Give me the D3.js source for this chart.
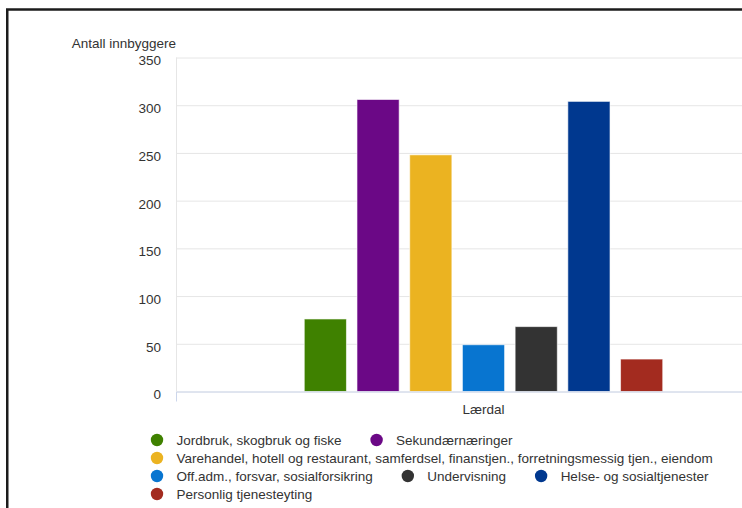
<!DOCTYPE html>
<html>
<head>
<meta charset="utf-8">
<script src="https://cdn.jsdelivr.net/npm/d3@7/dist/d3.min.js"></script>
<style>
  html, body { margin: 0; padding: 0; background: #fff; }
  svg { display: block; font-family: "Liberation Sans", Arial, sans-serif; }
</style>
</head>
<body>
<svg id="chart" width="742" height="508"></svg>
<script>
// ---- Data ----
const categories = ["Lærdal"];
const seriesNames = [
  "Jordbruk, skogbruk og fiske",
  "Sekundærnæringer",
  "Varehandel, hotell og restaurant, samferdsel, finanstjen., forretningsmessig tjen., eiendom",
  "Off.adm., forsvar, sosialforsikring",
  "Undervisning",
  "Helse- og sosialtjenester",
  "Personlig tjenesteyting"
];
const seriesValues = [76, 306, 248, 49, 68, 304, 34];
const seriesColors = ["#3f8100", "#6b0886", "#ebb321", "#0875d0", "#333333", "#00388f", "#a32b1f"];
const yTicks = [0, 50, 100, 150, 200, 250, 300, 350];
const yTitle = "Antall innbyggere";

// ---- Layout ----
const FS = "13.5px";
const svg = d3.select("#chart");
const plot = { left: 176, right: 791, top: 57.5, bottom: 391.5 };

// frame
svg.append("rect")
  .attr("x", 7.25).attr("y", 9.5)
  .attr("width", 900).attr("height", 700)
  .attr("fill", "none").attr("stroke", "#1c1c1c").attr("stroke-width", 2.5);

const x0 = d3.scaleBand().domain(categories).range([plot.left, plot.right]).padding(0);
const x1 = d3.scaleBand().domain(seriesNames)
  .range([x0.bandwidth() * 0.2, x0.bandwidth() * 0.8])
  .paddingInner(0.2).paddingOuter(0.1);
const y = d3.scaleLinear().domain([0, 350]).range([plot.bottom, plot.top]);

// y axis with gridlines
const yAxisG = svg.append("g")
  .attr("transform", `translate(${plot.left},0)`)
  .call(d3.axisLeft(y).tickValues(yTicks)
    .tickSize(-(plot.right - plot.left)).tickPadding(15));
yAxisG.select(".domain").remove();
yAxisG.selectAll(".tick line").attr("stroke", "#e6e6e6").attr("stroke-width", 1);
yAxisG.selectAll(".tick text")
  .attr("fill", "#333").style("font-size", FS)
  .style("font-family", "\"Liberation Sans\", Arial, sans-serif")
  .attr("dy", "0.55em");

// vertical grid line at category boundary
svg.append("line")
  .attr("x1", x0.range()[0] + 0.5).attr("x2", x0.range()[0] + 0.5)
  .attr("y1", plot.top).attr("y2", plot.bottom)
  .attr("stroke", "#e6e6e6");

// y title
svg.append("text")
  .attr("x", plot.left).attr("y", 47.5)
  .attr("text-anchor", "end")
  .attr("fill", "#333").style("font-size", FS)
  .text(yTitle);

// bars
const groups = svg.append("g").selectAll("g")
  .data(categories).join("g")
  .attr("transform", d => `translate(${x0(d)},0)`);
groups.selectAll("rect")
  .data((d, ci) => seriesNames.map((s, i) => ({ s, v: seriesValues[i], c: seriesColors[i] })))
  .join("rect")
  .attr("x", d => x1(d.s))
  .attr("width", x1.bandwidth())
  .attr("y", d => y(d.v))
  .attr("height", d => y(0) - y(d.v))
  .attr("fill", d => d.c)
  .attr("stroke", "#fff").attr("stroke-opacity", 0.6).attr("stroke-width", 1);

// x axis
const xAxisG = svg.append("g")
  .attr("transform", `translate(0,${plot.bottom})`)
  .call(d3.axisBottom(x0).tickSizeInner(0).tickSizeOuter(10).tickPadding(12.5));
xAxisG.select(".domain").attr("stroke", "#ccd6eb");
xAxisG.selectAll(".tick line").remove();
xAxisG.selectAll(".tick text")
  .attr("fill", "#333").style("font-size", FS)
  .style("font-family", "\"Liberation Sans\", Arial, sans-serif");

// legend (flow layout)
const legend = svg.append("g");
const legendLeft = 151, legendMaxRight = 735, rowStart = 440, rowH = 18;
let cx = legendLeft, row = 0;
seriesNames.forEach((name, i) => {
  const g = legend.append("g");
  const t = g.append("text")
    .attr("fill", "#333").style("font-size", FS)
    .text(name);
  const w = t.node().getComputedTextLength();
  const itemW = 25.5 + w;
  if (cx > legendLeft && cx + itemW > legendMaxRight) { row++; cx = legendLeft; }
  const cy = rowStart + row * rowH;
  g.append("circle").attr("cx", cx + 6).attr("cy", cy).attr("r", 6.2).attr("fill", seriesColors[i]);
  t.attr("x", cx + 25.5).attr("y", cy + 4.7);
  cx += itemW + 29;
});
</script>
</body>
</html>
